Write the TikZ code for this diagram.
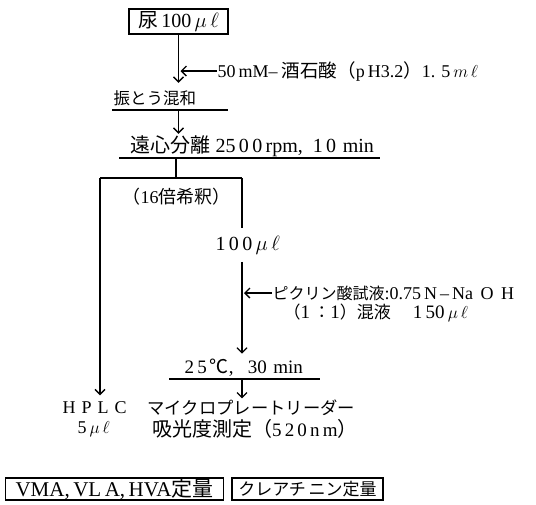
\documentclass[tikz,border=0pt]{standalone}
\usepackage{fontspec}
\setmainfont{Liberation Serif}
\newfontfamily\jp{Noto Sans CJK JP}
\newcommand\fsz[1]{\fontsize{#1}{#1}\selectfont}
\usetikzlibrary{arrows.meta}
\begin{document}
\begin{tikzpicture}[x=1pt,y=-1pt,line width=1.3pt,>={Straight Barb[length=5pt,width=10pt,line width=1.3pt]},
  txt/.style={inner sep=0pt,anchor=west,font=\fsz{19}},
  boxed/.style={draw,inner sep=0pt}]
\useasboundingbox (0,0) rectangle (536,504);
% top box
\node[boxed,minimum width=99pt,minimum height=25pt,font=\fsz{20}] (urine) at (178.5,21.5) {{\jp 尿}\,100\,$\mu\,\ell$};
\node[txt,font=\fsz{18}] (tart) at (217,71) {50\,mM--{\jp\fsz{18.5} 酒石酸（}p\,H3.2{\jp\fsz{18.5}）}1.\,\,5\,$m\,\ell$};
\node[txt,font=\jp\fsz{16.5}] (mix) at (113,98) {振とう混和};
\coordinate (mixL) at (112,110); \coordinate (mixR) at (228,110);
\draw (mixL) -- (mixR);
\draw[->] (urine.south) -- ([yshift=7pt]urine.south |- mix.north);
\draw[->] (tart.west) -- ([xshift=2pt]tart.west -| urine.south);
% centrifuge
\node[txt,font=\fsz{20}] (cent) at (130,146) {{\jp 遠心分離}\ 25\,0\,0\,rpm,\ \ 1\,0\,\,min};
\coordinate (centL) at (119,158); \coordinate (centR) at (380,158);
\draw (centL) -- (centR);
\draw[->] (urine.south |- mixL) -- ([yshift=1pt]urine.south |- cent.north);
% branch
\coordinate (split) at (176,158);
\coordinate (brL) at (100,178); \coordinate (brR) at (242,178);
\draw (split) -- (split |- brL);
\draw (brL) -- (brR);
\node[txt,font=\fsz{18}] (dil) at (122,197) {{\jp （}16{\jp 倍希釈）}};
\node[txt,font=\fsz{20}] (v100) at (215,245) {1\,0\,0\,$\mu\,\ell$};
\draw (brR) -- ([yshift=7pt]brR |- v100.north);
% picric
\node[txt,font=\fsz{18}] (pic) at (272,293) {{\jp\fsz{16}ピクリン酸試液}:0.75\,N\,--\,Na\ \,O\ \,H};
\node[txt,font=\fsz{19}] (pic2) at (283,313) {{\jp\fsz{17}（}1\,{\jp\fsz{17}：}1{\jp\fsz{17}）混液}\quad\,1\,50\,$\mu\,\ell$};
\node[txt,font=\fsz{19}] (react) at (184,368) {2\,5\,{\jp ℃},\ \ \ 30\,\,min};
\coordinate (reactL) at (169,379); \coordinate (reactR) at (320,379);
\draw (reactL) -- (reactR);
\draw[->] ([yshift=-7pt]brR |- v100.south) -- ([yshift=5pt]brR |- react.north);
\draw[->] (pic.west) -- ([xshift=2pt]pic.west -| brR);
% outputs
\node[txt,font=\fsz{18}] (hplc) at (62,408) {H\,\,P\,\,L\,\,C};
\node[txt,font=\fsz{18}] (hplc2) at (77,429) {5\,$\mu\,\ell$};
\node[txt,font=\jp\fsz{17.3}] (micro) at (147,408) {マイクロプレートリーダー};
\node[txt,font=\fsz{19}] (abs) at (147,429) {{\jp\fsz{20} 吸光度測定（}5\,2\,0\,n\,m{\jp\fsz{20}）}};
\draw[->] (brL) -- ([yshift=6pt]brL |- hplc.north);
\draw[->] (brR |- reactL) -- ([yshift=1pt]brR |- micro.north);
% result boxes
\node[boxed,minimum width=218pt,minimum height=22pt,font=\fsz{21}] (q1) at (114.5,489) {VMA,\,VL\,A,\,HVA{\jp 定量}};
\node[boxed,minimum width=151pt,minimum height=22pt,font=\jp\fsz{17}] (q2) at (307.5,489) {クレアチ\,ニン定量};
\end{tikzpicture}
\end{document}
